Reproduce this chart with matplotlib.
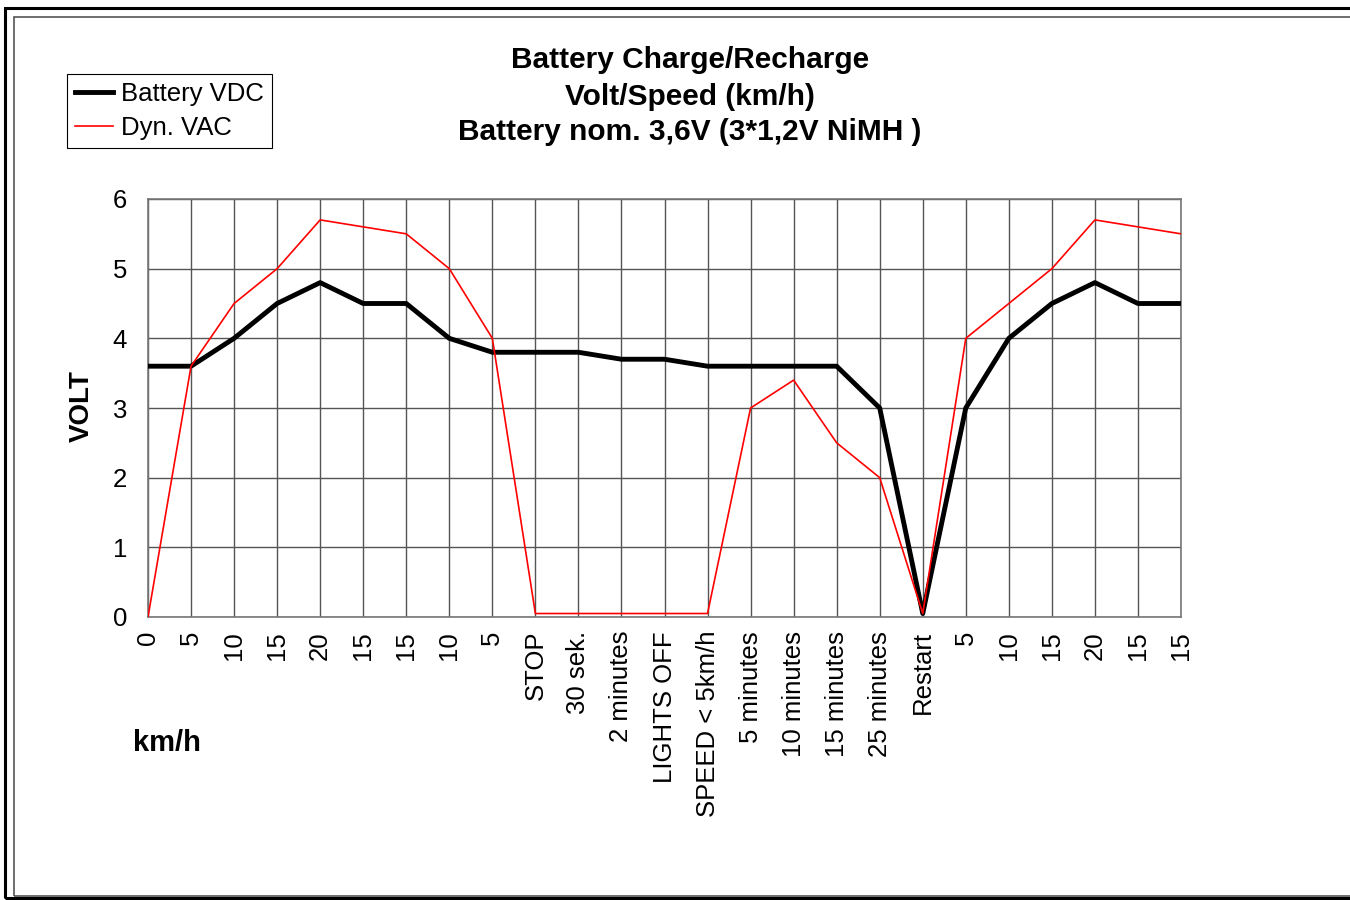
import matplotlib.pyplot as plt
from matplotlib.patches import Rectangle
import numpy as np

plt.rcParams['font.family'] = ['Liberation Sans', 'DejaVu Sans']

labels = ["0", "5", "10", "15", "20", "15", "15", "10", "5", "STOP", "30 sek.",
          "2 minutes", "LIGHTS OFF", "SPEED < 5km/h", "5 minutes", "10 minutes",
          "15 minutes", "25 minutes", "Restart", "5", "10", "15", "20", "15", "15"]
battery_vdc = [3.6, 3.6, 4.0, 4.5, 4.8, 4.5, 4.5, 4.0, 3.8, 3.8, 3.8, 3.7, 3.7,
               3.6, 3.6, 3.6, 3.6, 3.0, 0.05, 3.0, 4.0, 4.5, 4.8, 4.5, 4.5]
dyn_vac = [0.0, 3.6, 4.5, 5.0, 5.7, 5.6, 5.5, 5.0, 4.0, 0.05, 0.05, 0.05, 0.05,
           0.05, 3.0, 3.4, 2.5, 2.0, 0.05, 4.0, 4.5, 5.0, 5.7, 5.6, 5.5]

fig = plt.figure(figsize=(13.5, 9), dpi=100)
W, H = 1350, 900

# Rahmen um das Diagramm
fig.patches.append(Rectangle((5 / W, 1 - 898 / H), 1.2, (898 - 8) / H,
                             transform=fig.transFigure, fill=False,
                             edgecolor='black', linewidth=2.2))
fig.patches.append(Rectangle((14 / W, 1 - 896 / H), 1.2, (896 - 17) / H,
                             transform=fig.transFigure, fill=False,
                             edgecolor='#555555', linewidth=1.2))

ax = fig.add_axes([148 / W, 1 - 617 / H, (1181 - 148) / W, (617 - 199) / H])
x = np.arange(len(labels))

ax.plot(x, battery_vdc, color='black', linewidth=3.5, label='Battery VDC',
        zorder=3)
ax.plot(x, dyn_vac, color='#ff0000', linewidth=1.2, label='Dyn. VAC', zorder=4)

ax.set_xlim(0, len(labels) - 1)
ax.set_ylim(0, 6)
ax.set_xticks(x)
ax.set_xticklabels(labels, rotation=90, fontsize=18.5)
ax.set_yticks(range(7))
ax.tick_params(axis='y', labelsize=18.5, length=0, pad=15)
ax.tick_params(axis='x', length=0, pad=10)
ax.grid(True, color='#555555', linewidth=1.0)
for s in ax.spines.values():
    s.set_color('#777777')
    s.set_linewidth(1.2)

fig.text(690 / W, 1 - 60 / H, "Battery Charge/Recharge", ha='center',
         va='center', fontsize=21.5, fontweight='bold')
fig.text(690 / W, 1 - 97 / H, "Volt/Speed (km/h)", ha='center',
         va='center', fontsize=21.5, fontweight='bold')
fig.text(690 / W, 1 - 132 / H, "Battery nom. 3,6V (3*1,2V NiMH )", ha='center',
         va='center', fontsize=21.5, fontweight='bold')

fig.text(82 / W, 1 - 406 / H, "VOLT", rotation=90, ha='center', va='center',
         fontsize=20, fontweight='bold')
fig.text(133 / W, 1 - 743 / H, "km/h", ha='left', va='center',
         fontsize=21, fontweight='bold')

leg = ax.legend(loc='upper left', bbox_to_anchor=(67 / W, 1 - 74 / H),
                bbox_transform=fig.transFigure, fontsize=18.5, fancybox=False,
                framealpha=1, edgecolor='black', borderpad=0.3,
                handlelength=1.5, handletextpad=0.3, labelspacing=0.4,
                borderaxespad=0)
leg.get_frame().set_linewidth(0.8)

fig.savefig("out.png", dpi=100)
